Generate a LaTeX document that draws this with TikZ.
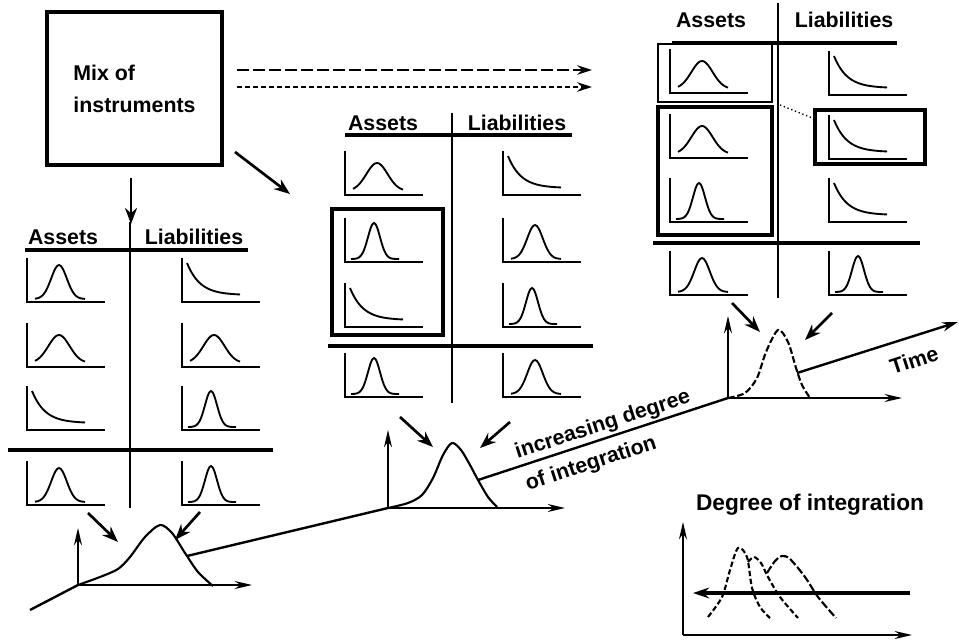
\documentclass[tikz,border=0pt]{standalone}
\usepackage{fontspec}
\setmainfont{Liberation Sans}
\usetikzlibrary{arrows.meta}
\newcommand\hf{\fontsize{16}{18}\selectfont\bfseries}
\newcommand\mixf{\fontsize{16}{24}\selectfont\bfseries}
\newcommand\incf{\fontsize{16}{25}\selectfont\bfseries}
\tikzset{
 ax/.style={line width=1.3pt},
 crv/.style={line width=1.4pt},
 hl/.style={line width=2.4pt},
 sepline/.style={line width=3pt},
 vdiv/.style={line width=1.1pt},
 arr/.style={line width=2pt,-{Stealth[length=12pt,width=9pt]}},
 axarr/.style={line width=1.4pt,-{Stealth[length=13pt,width=6pt]}},
 hdr/.style={font=\hf, inner sep=0pt},
 tline/.style={line width=1.8pt},
 bigcrv/.style={line width=1.6pt},
}
\newcommand\crvW{\draw[crv] plot[domain=8:58,samples=30,smooth] (\x,{-(4+28*exp(-((\x-32)/15)*((\x-32)/15)))});}
\newcommand\crvM{\draw[crv] plot[domain=8:58,samples=30,smooth] (\x,{-(3+34*exp(-((\x-32)/11)*((\x-32)/11)))});}
\newcommand\crvS{\draw[crv] plot[domain=6:54,samples=30,smooth] (\x,{-(3+36*exp(-((\x-29)/8.5)*((\x-29)/8.5)))});}
\newcommand\crvD{\draw[crv] plot[domain=5:58,samples=30,smooth] (\x,{-(7+32*exp(-(\x-5)/13))});}
\newcommand\mchart[3]{\begin{scope}[shift={(#1,#2)}]\draw[ax] (0,-44) -- (0,0) -- (78,0);\csname crv#3\endcsname\end{scope}}
\begin{document}
\begin{tikzpicture}[x=0.75pt,y=-0.75pt]
\useasboundingbox[fill=white] (0,0) rectangle (959,641);

% Mix of instruments
\node[draw, line width=2.4pt, minimum width=131.25pt, minimum height=114.75pt, align=left, font=\mixf] (mix) at (134.5,88.5) {Mix of\\instruments};
\coordinate (downA) at (131,178);
\coordinate (downB) at (131,224);
\draw[arr] (downA) -- (downB);
\coordinate (diagA) at (235,152);
\coordinate (diagB) at (290,194);
\draw[arr] (diagA) -- (diagB);
\coordinate (dsA) at (237,70);
\coordinate (dsB) at (592,70);
\coordinate (dtA) at (237,87);
\coordinate (dtB) at (592,87);
\draw[line width=1.6pt, dash pattern=on 9pt off 3pt, -{Stealth[length=11pt,width=7pt]}] (dsA) -- (dsB);
\draw[line width=1.8pt, dash pattern=on 4pt off 2pt, -{Stealth[length=11pt,width=7pt]}] (dtA) -- (dtB);

% Left table
\node[hdr] (la) at (63,237) {Assets};
\node[hdr] (ll) at (194,237) {Liabilities};
\draw[hl] (25,250) -- (248,250);
\draw[vdiv] (130,222) -- (130,508);
\draw[sepline] (8,450) -- (273,450);
\mchart{27}{302}{M} \mchart{182}{302}{D}
\mchart{27}{367}{W} \mchart{182}{367}{W}
\mchart{27}{430}{D} \mchart{182}{430}{S}
\mchart{27}{505}{M} \mchart{182}{505}{S}

% Middle table
\node[hdr] (ma) at (383,123) {Assets};
\node[hdr] (ml) at (517,123) {Liabilities};
\draw[hl] (345,135) -- (572,135);
\draw[vdiv] (452,113) -- (452,403);
\draw[sepline] (328,346) -- (593,346);
\mchart{345}{195}{W} \mchart{503}{195}{D}
\mchart{345}{262}{S} \mchart{503}{262}{M}
\mchart{345}{327}{D} \mchart{503}{327}{S}
\mchart{345}{397}{S} \mchart{503}{397}{M}
\draw[line width=3pt] (332,209) rectangle (443,335);

% Right table
\node[hdr] (ra) at (711,20) {Assets};
\node[hdr] (rl) at (844,20) {Liabilities};
\draw[hl] (672,43) -- (897,43);
\draw[vdiv] (778,3) -- (778,298);
\draw[sepline] (653,243) -- (920,243);
\mchart{670}{93}{W} \mchart{829}{95}{D}
\mchart{670}{158}{W} \mchart{829}{159}{D}
\mchart{670}{222}{S} \mchart{829}{222}{D}
\mchart{670}{295}{M} \mchart{829}{295}{S}
\draw[line width=2pt] (658,44) rectangle (772,102);
\draw[line width=3.2pt] (658,107) rectangle (772,235);
\draw[line width=2.4pt] (815,110) rectangle (925,164);
\draw[dotted, line width=1pt] (780,105) -- (815,119);

% arrows into charts
\draw[arr] (88,513) -- (118,542);
\draw[arr] (200,512) -- (175,540);
\draw[arr] (400,417) -- (433,447);
\draw[arr] (510,422) -- (480,448);
\draw[arr] (732,303) -- (760,332);
\draw[arr] (832,313) -- (805,340);

% chart 1
\coordinate (o1) at (78,585);
\coordinate (o2) at (388,508);
\coordinate (o3) at (728,398);
\coordinate (t0) at (30,610);
\draw[axarr] (o1) -- (78,528);
\draw[axarr] (o1) -- (252,585);
\draw[tline] (t0) -- (o1);
\draw[bigcrv] plot[smooth] coordinates {(78,585) (100,577) (118,569) (130,557) (145,537) (160,525) (172,533) (185,553) (198,572) (213,586)};
\coordinate (c1) at (187,556);
\draw[tline] (c1) -- (o2);

% chart 2
\draw[axarr] (o2) -- (388,430);
\draw[axarr] (o2) -- (565,508);
\draw[bigcrv] plot[smooth] coordinates {(388,508) (408,503) (422,495) (433,478) (443,455) (452,443) (461,450) (470,465) (478,480) (488,497) (497,507)};
\coordinate (c2) at (478,480);
\draw[tline] (c2) -- (o3);
\node[rotate=18, font=\incf, align=left, inner sep=0pt] (inc) at (608,441) {increasing degree\\of integration};

% chart 3
\draw[axarr] (o3) -- (728,316);
\draw[axarr] (o3) -- (902,398);
\draw[bigcrv, dash pattern=on 5pt off 2pt] plot[smooth] coordinates {(728,398) (745,393) (757,378) (766,352) (778,330) (788,342) (796,368) (802,385) (810,398)};
\coordinate (c3) at (797,373);
\coordinate (tend) at (958,322);
\draw[tline, -{Stealth[length=12pt,width=7pt]}] (c3) -- (tend);
\node[rotate=18, font=\hf, inner sep=0pt] (time) at (914,360) {Time};

% inset
\node[font=\fontsize{17}{20}\selectfont\bfseries] (deg) at (810,505) {Degree of integration};
\coordinate (io) at (683,635);
\draw[axarr] (io) -- (683,522);
\draw[axarr] (io) -- (912,635);
\coordinate (la1) at (910,593);
\coordinate (la2) at (693,593);
\draw[line width=2.6pt, -{Stealth[length=12pt,width=8pt]}] (la1) -- (la2);
\draw[bigcrv, dash pattern=on 4pt off 2pt] plot[smooth] coordinates {(708,617) (722,597) (730,570) (738,548) (747,557) (752,588) (760,607) (770,618)};
\draw[bigcrv, dash pattern=on 4pt off 2pt] plot[smooth] coordinates {(748,562) (754,557) (761,563) (768,577) (780,597) (798,618)};
\draw[bigcrv, dash pattern=on 6pt off 2pt] plot[smooth] coordinates {(767,573) (775,561) (782,556) (790,559) (805,577) (818,597) (836,618)};
\end{tikzpicture}
\end{document}
